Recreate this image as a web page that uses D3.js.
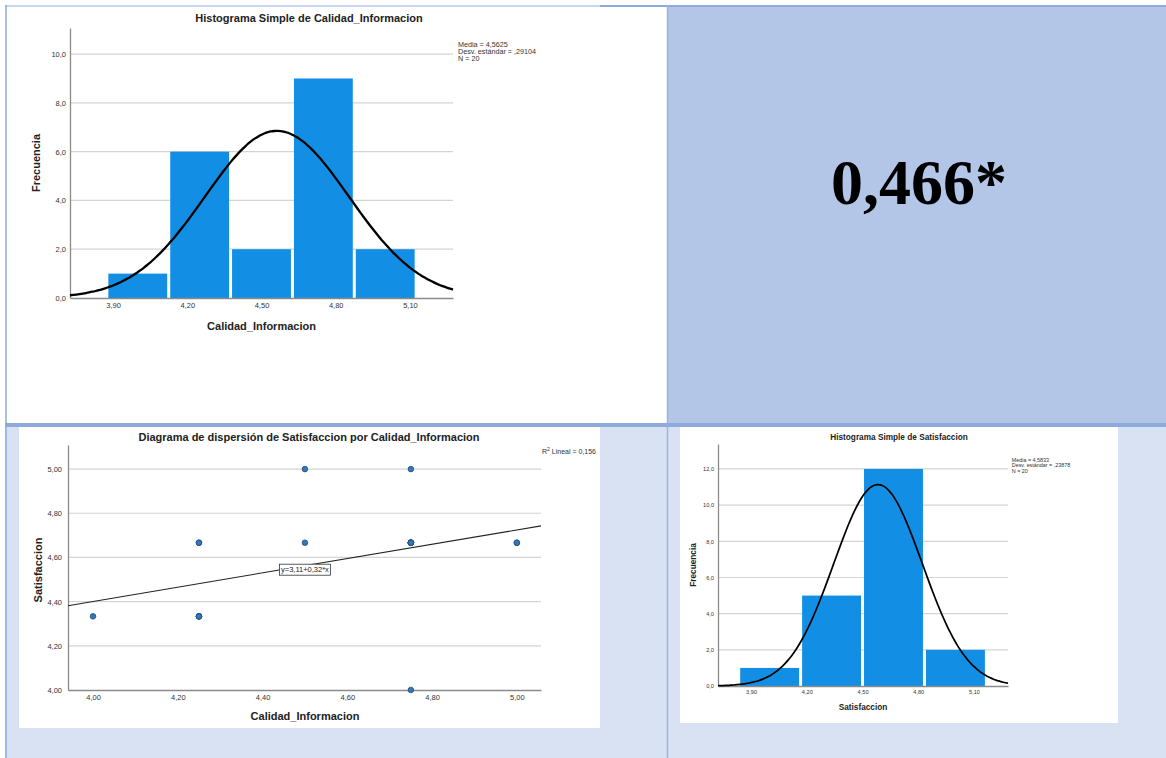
<!DOCTYPE html>
<html>
<head>
<meta charset="utf-8">
<script src="https://cdn.jsdelivr.net/npm/d3@7"></script>
<style>
  body { margin: 0; background: #fff; }
  svg { display: block; font-family: "Liberation Sans", Arial, sans-serif; }
</style>
</head>
<body>
<svg width="1166" height="758"></svg>
<script>
// ---- datos ----
var caliEdges = [3.875, 4.125, 4.375, 4.625, 4.875, 5.125];
var caliCounts = [1, 6, 2, 9, 2];
var caliStats = [4.5625, 0.29104, 20];      // media, desv, N
var caliTicks = [3.9, 4.2, 4.5, 4.8, 5.1];
var caliFreqTicks = [0, 2, 4, 6, 8, 10];

var satiEdges = [3.8333, 4.1667, 4.5, 4.8333, 5.1667];
var satiCounts = [1, 5, 12, 2];
var satiStats = [4.5833, 0.23878, 20];
var satiTicks = [3.9, 4.2, 4.5, 4.8, 5.1];
var satiFreqTicks = [0, 2, 4, 6, 8, 10, 12];

var scatX = [4.00, 4.25, 4.25, 4.25, 4.25, 4.25, 4.25, 4.50, 4.50, 4.75,
             4.75, 4.75, 4.75, 4.75, 4.75, 4.75, 4.75, 4.75, 5.00, 5.00];
var scatY = [4.3333, 4.3333, 4.3333, 4.3333, 4.3333, 4.6667, 4.6667, 5.0, 4.6667, 4.0,
             5.0, 4.6667, 4.6667, 4.6667, 4.6667, 4.6667, 4.6667, 4.6667, 4.6667, 4.6667];
var scatXTicks = [4.0, 4.2, 4.4, 4.6, 4.8, 5.0];
var scatYTicks = [4.0, 4.2, 4.4, 4.6, 4.8, 5.0];
var fitCoef = [3.106, 0.3237];   // y = a + b*x
var r2 = 0.156;
var corrText = "0,466*";

var svg = d3.select("svg");
var loc = d3.formatLocale({ decimal: ",", thousands: ".", grouping: [3], currency: ["", ""] });
var f1 = loc.format(".1f"), f2 = loc.format(".2f");

// ---- tabla de fondo ----
svg.append("rect").attr("x", 667).attr("y", 5).attr("width", 499).attr("height", 418).attr("fill", "#b4c6e7");
svg.append("rect").attr("x", 5).attr("y", 423).attr("width", 1161).attr("height", 335).attr("fill", "#d9e2f3");
svg.append("line").attr("x1", 5).attr("x2", 600).attr("y1", 6).attr("y2", 6).attr("stroke", "#c9d6ee").attr("stroke-width", 2);
svg.append("line").attr("x1", 600).attr("x2", 1166).attr("y1", 6).attr("y2", 6).attr("stroke", "#8eaadb").attr("stroke-width", 2);
svg.append("line").attr("x1", 6).attr("x2", 6).attr("y1", 5).attr("y2", 758).attr("stroke", "#8eaadb").attr("stroke-width", 1.5);
svg.append("line").attr("x1", 667.5).attr("x2", 667.5).attr("y1", 5).attr("y2", 758).attr("stroke", "#9db4de").attr("stroke-width", 1.5);
svg.append("line").attr("x1", 5).attr("x2", 1166).attr("y1", 425).attr("y2", 425).attr("stroke", "#8eaadb").attr("stroke-width", 4);
svg.append("rect").attr("x", 19).attr("y", 427).attr("width", 581).attr("height", 301).attr("fill", "#fff");
svg.append("rect").attr("x", 680).attr("y", 427).attr("width", 438).attr("height", 296).attr("fill", "#fff");

svg.append("text").attr("x", 919).attr("y", 204).attr("text-anchor", "middle")
  .style("font-family", "'Liberation Serif', 'Times New Roman', serif")
  .style("font-weight", "bold").style("font-size", "64px").text(corrText);

// ---- histograma generico ----
function histo(o) {
  var g = svg.append("g");
  var x = d3.scaleLinear().domain(o.xDom).range([o.left, o.right]);
  var y = d3.scaleLinear().domain(o.yDom).range([o.bottom, o.top]);
  var s = o.k; // escala de fuentes

  // rejilla
  g.selectAll(".grid").data(o.freqTicks.slice(1)).enter().append("line")
    .attr("x1", o.left).attr("x2", o.right)
    .attr("y1", function (d) { return y(d); }).attr("y2", function (d) { return y(d); })
    .attr("stroke", "#d4d4d4").attr("stroke-width", 1.2);

  // barras
  var bars = o.counts.map(function (c, i) { return { x0: o.edges[i], x1: o.edges[i + 1], n: c }; });
  g.selectAll(".bar").data(bars).enter().append("rect")
    .attr("x", function (d) { return x(d.x0) + 1.5; })
    .attr("width", function (d) { return x(d.x1) - x(d.x0) - 3; })
    .attr("y", function (d) { return y(d.n); })
    .attr("height", function (d) { return y(0) - y(d.n); })
    .attr("fill", "#128fe5");

  // ejes
  var yAxis = d3.axisLeft(y).tickValues(o.freqTicks).tickFormat(f1).tickSize(0).tickPadding(4);
  var xAxis = d3.axisBottom(x).tickValues(o.ticks).tickFormat(f2).tickSize(0).tickPadding(5 * s);
  var ya = g.append("g").attr("transform", "translate(" + o.left + ",0)").call(yAxis);
  var xa = g.append("g").attr("transform", "translate(0," + o.bottom + ")").call(xAxis);
  [ya, xa].forEach(function (a) {
    a.select(".domain").attr("stroke", "#8a8a8a").attr("stroke-width", 1.3);
    a.selectAll("text").style("font-size", (7.5 * s) + "px").attr("fill", "#333")
      .style("font-family", "'Liberation Sans', Arial, sans-serif");
  });

  // curva normal
  var m = o.stats[0], sd = o.stats[1], N = o.stats[2], w = o.edges[1] - o.edges[0];
  var xs = d3.range(0, 121).map(function (i) { return o.xDom[0] + (o.xDom[1] - o.xDom[0]) * i / 120; });
  var line = d3.line()
    .x(function (d) { return x(d); })
    .y(function (d) { var z = (d - m) / sd; return y(N * w * Math.exp(-z * z / 2) / (sd * Math.sqrt(2 * Math.PI))); })
    .curve(d3.curveBasis);
  g.append("path").datum(xs).attr("d", line).attr("fill", "none").attr("stroke", "#000").attr("stroke-width", 2.3 * s);

  // textos
  g.append("text").attr("x", o.titleX).attr("y", o.titleY).attr("text-anchor", "middle")
    .style("font-weight", "bold").style("font-size", (11 * s) + "px").attr("fill", "#222").text(o.title);
  g.append("text").attr("x", (o.left + o.right) / 2).attr("y", o.bottom + 32 * s).attr("text-anchor", "middle")
    .style("font-weight", "bold").style("font-size", (11 * s) + "px").attr("fill", "#222").text(o.xLabel);
  g.append("text").attr("transform", "translate(" + (o.left - 30 * s) + "," + ((o.top + o.bottom) / 2) + ") rotate(-90)")
    .attr("text-anchor", "middle").style("font-weight", "bold").style("font-size", (11 * s) + "px").attr("fill", "#222").text("Frecuencia");

  var leg = ["Media = " + loc.format(".4f")(m), "Desv. estándar = " + loc.format(".5f")(sd).replace(/^0/, ""), "N = " + N];
  g.selectAll(".leg").data(leg).enter().append("text")
    .attr("x", o.right + 5 * s).attr("y", function (d, i) { return o.legY + i * 7.3 * s; })
    .style("font-size", (7.2 * s) + "px").attr("fill", "#333").text(function (d) { return d; });
}

histo({
  edges: caliEdges, counts: caliCounts, stats: caliStats, ticks: caliTicks, freqTicks: caliFreqTicks,
  xDom: [3.726, 5.274], yDom: [0, 11.07], left: 70, right: 453, top: 28, bottom: 298, k: 1,
  title: "Histograma Simple de Calidad_Informacion", titleX: 309, titleY: 22,
  xLabel: "Calidad_Informacion", legY: 46.5
});

histo({
  edges: satiEdges, counts: satiCounts, stats: satiStats, ticks: satiTicks, freqTicks: satiFreqTicks,
  xDom: [3.722, 5.283], yDom: [0, 13.38], left: 718, right: 1008, top: 444, bottom: 686, k: 0.75,
  title: "Histograma Simple de Satisfaccion", titleX: 899, titleY: 440,
  xLabel: "Satisfaccion", legY: 462
});

// ---- diagrama de dispersion ----
var sc = svg.append("g");
var sx = d3.scaleLinear().domain([3.941, 5.057]).range([68, 541]);
var sy = d3.scaleLinear().domain([4.0, 5.109]).range([690, 445]);

sc.selectAll(".grid").data(scatYTicks.slice(1)).enter().append("line")
  .attr("x1", 68).attr("x2", 541)
  .attr("y1", function (d) { return sy(d); }).attr("y2", function (d) { return sy(d); })
  .attr("stroke", "#d4d4d4").attr("stroke-width", 1.2);

var sya = sc.append("g").attr("transform", "translate(68,0)")
  .call(d3.axisLeft(sy).tickValues(scatYTicks).tickFormat(f2).tickSize(0).tickPadding(6));
var sxa = sc.append("g").attr("transform", "translate(0,690)")
  .call(d3.axisBottom(sx).tickValues(scatXTicks).tickFormat(f2).tickSize(0).tickPadding(5));
[sya, sxa].forEach(function (a) {
  a.select(".domain").attr("stroke", "#8a8a8a").attr("stroke-width", 1.3);
  a.selectAll("text").style("font-size", "7.5px").attr("fill", "#333")
    .style("font-family", "'Liberation Sans', Arial, sans-serif");
});

var fitLine = d3.line()
  .x(function (d) { return sx(d); })
  .y(function (d) { return sy(fitCoef[0] + fitCoef[1] * d); });
sc.append("path").datum(sx.domain()).attr("d", fitLine)
  .attr("fill", "none").attr("stroke", "#222").attr("stroke-width", 1.1);

sc.selectAll(".pt").data(scatX).enter().append("circle")
  .attr("cx", function (d) { return sx(d); })
  .attr("cy", function (d, i) { return sy(scatY[i]); })
  .attr("r", 2.8).attr("fill", "#3578b8").attr("stroke", "#1c4d80").attr("stroke-width", 0.8);

// etiqueta de la recta
var lx = sx(4.5), ly = sy(fitCoef[0] + fitCoef[1] * 4.5) + 4;
var lblBox = sc.append("rect");
var lbl = sc.append("text").attr("x", lx).attr("y", ly + 2.5).attr("text-anchor", "middle")
  .style("font-size", "7.5px").attr("fill", "#222")
  .text("y=" + loc.format(".2f")(fitCoef[0]) + "+" + loc.format(".2f")(fitCoef[1]) + "*x");
var bb = lbl.node().getBBox();
lblBox.attr("x", bb.x - 1.5).attr("y", ly - 5.5).attr("width", bb.width + 3).attr("height", 11)
  .attr("fill", "#fff").attr("stroke", "#333").attr("stroke-width", 0.8);

var r2t = sc.append("text").attr("x", 542).attr("y", 454).style("font-size", "7px").attr("fill", "#333");
r2t.append("tspan").text("R");
r2t.append("tspan").attr("dy", -3).style("font-size", "5px").text("2");
r2t.append("tspan").attr("dy", 3).text(" Lineal = " + loc.format(".3f")(r2));

sc.append("text").attr("x", 309).attr("y", 441).attr("text-anchor", "middle")
  .style("font-weight", "bold").style("font-size", "11px").attr("fill", "#222")
  .text("Diagrama de dispersión de Satisfaccion por Calidad_Informacion");
sc.append("text").attr("x", 305).attr("y", 720).attr("text-anchor", "middle")
  .style("font-weight", "bold").style("font-size", "11px").attr("fill", "#222").text("Calidad_Informacion");
sc.append("text").attr("transform", "translate(41.5,570) rotate(-90)").attr("text-anchor", "middle")
  .style("font-weight", "bold").style("font-size", "11px").attr("fill", "#222").text("Satisfaccion");
</script>
</body>
</html>
